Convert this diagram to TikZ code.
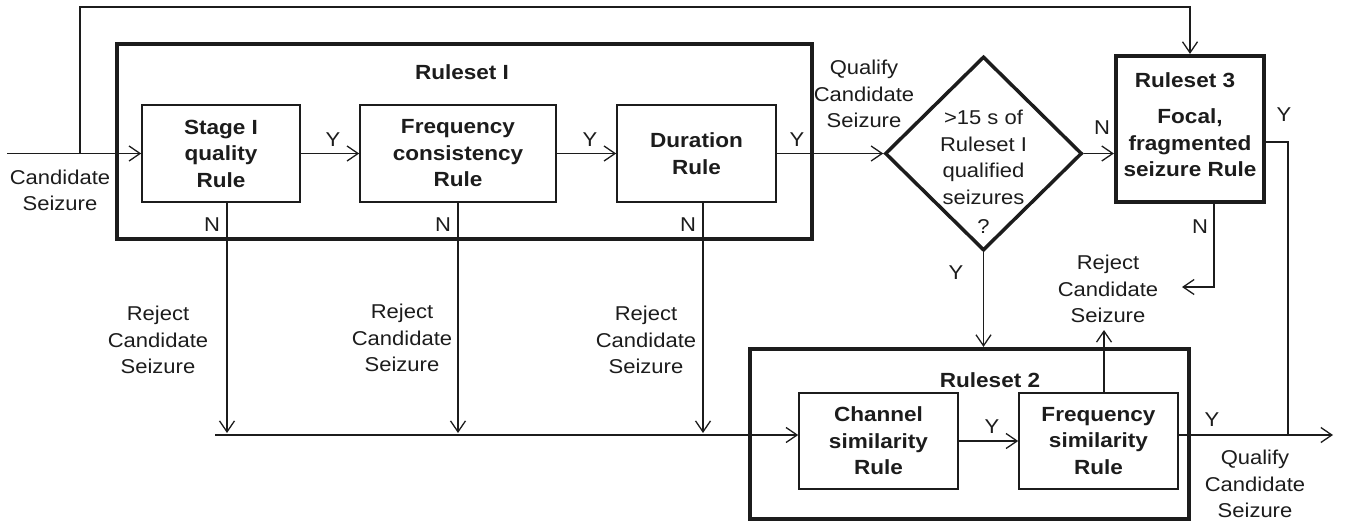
\documentclass[tikz,border=0pt]{standalone}
\usepackage{fontspec}
\setmainfont[FakeStretch=1.1]{Liberation Sans}
\usetikzlibrary{arrows.meta,shapes.geometric}
\definecolor{ink}{HTML}{1C1C1C}
\begin{document}
\begin{tikzpicture}[x=1pt,y=-1pt,
  every node/.style={text=ink},
  txt/.style={align=center, inner sep=0pt, font=\fontsize{20}{26.5}\selectfont},
  yn/.style={inner sep=0pt, font=\fontsize{20}{24}\selectfont},
  rulebox/.style={draw=ink, line width=1.6pt, align=center, inner sep=0pt,
    minimum height=97pt, font=\fontsize{20.5}{26.5}\selectfont\bfseries},
  setbox/.style={draw=ink, line width=4.2pt, inner sep=0pt},
  title/.style={inner sep=0pt, font=\fontsize{20.5}{26.5}\selectfont\bfseries},
  link/.style={draw=ink, line width=1.3pt},
  arr/.style={link, -{Straight Barb[length=11pt,width=15pt,line width=1.3pt]}},
]
\useasboundingbox (0,0) rectangle (1345,523);

% ---- Ruleset I ----
\node[setbox, minimum width=695pt, minimum height=195pt] (rs1) at (464.5,141.5) {};
\node[title] (rs1t) at (462,72) {Ruleset I};
\node[rulebox, minimum width=158pt] (stage) at (221,153.5) {Stage I\\quality\\Rule};
\node[rulebox, minimum width=196pt] (freqc) at (458,153.5) {Frequency\\consistency\\Rule};
\node[rulebox, minimum width=159pt] (dur) at (696.5,153.5) {Duration\\Rule};

% ---- decision ----
\node[diamond, draw=ink, line width=3.5pt, minimum width=197pt, minimum height=194pt,
  inner sep=0pt] (dec) at (983.5,153.5) {};
\node[txt] (dect) at (983.5,172) {>15 s of\\Ruleset I\\qualified\\seizures\\[3pt]?};

% ---- Ruleset 3 ----
\node[setbox, minimum width=148pt, minimum height=146pt] (rs3) at (1190,129) {};
\node[title] (rs3t) at (1185,80) {Ruleset 3};
\node[title, align=center] (rs3b) at (1190,143) {Focal,\\fragmented\\seizure Rule};

% ---- Ruleset 2 ----
\node[setbox, minimum width=439pt, minimum height=170pt] (rs2) at (969.5,434) {};
\node[title] (rs2t) at (990,380) {Ruleset 2};
\node[rulebox, minimum width=159pt, minimum height=96pt] (chan) at (878.5,441) {Channel\\similarity\\Rule};
\node[rulebox, minimum width=159pt, minimum height=96pt] (freqs) at (1098.5,441) {Frequency\\similarity\\Rule};

% ---- free text ----
\node[txt] (cand) at (60,190.5) {Candidate\\Seizure};
\node[txt] (qual1) at (864,94) {Qualify\\Candidate\\Seizure};
\node[txt] (qual2) at (1255,484) {Qualify\\Candidate\\Seizure};
\node[txt] (rej1) at (158,340) {Reject\\Candidate\\Seizure};
\node[txt] (rej2) at (402,338) {Reject\\Candidate\\Seizure};
\node[txt] (rej3) at (646,340) {Reject\\Candidate\\Seizure};
\node[txt] (rej4) at (1108,289) {Reject\\Candidate\\Seizure};

% ---- Y / N labels ----
\node[yn] (y1) at (333,140) {Y};
\node[yn] (y2) at (590,140) {Y};
\node[yn] (y3) at (797,140) {Y};
\node[yn] (n1) at (212,225) {N};
\node[yn] (n2) at (443,225) {N};
\node[yn] (n3) at (688,225) {N};
\node[yn] (n4) at (1102,128) {N};
\node[yn] (y4) at (1284,115) {Y};
\node[yn] (n5) at (1200,227) {N};
\node[yn] (y5) at (956,273) {Y};
\node[yn] (y6) at (992,427) {Y};
\node[yn] (y7) at (1212,420) {Y};

% ---- connector points ----
\coordinate (src) at (7,153.5);
\coordinate (br) at (80,153.5);
\coordinate (top) at (80,7);
\coordinate (m1) at (227,433);
\coordinate (m2) at (458,433);
\coordinate (m3) at (703,433);
\coordinate (busL) at (215,435);
\coordinate (out) at (1333,435);
\coordinate (yk) at (1288,142);
\coordinate (yj) at (1288,435);
\coordinate (nk) at (1214,287);
\coordinate (nt) at (1182,287);
\coordinate (ft) at (1104,330);

% ---- connectors ----
\draw[arr] (src) -- (stage.west);
\draw[arr] (br) -- (top) -| (rs3.north);
\draw[arr] (stage.east) -- (freqc.west);
\draw[arr] (freqc.east) -- (dur.west);
\draw[arr] (dur.east) -- (dec.west);
\draw[arr] (dec.east) -- (dec.east -| rs3.west);
\draw[arr] (dec.south) -- (dec.south |- rs2.north);
\draw[arr] (stage.south -| m1) -- (m1);
\draw[arr] (freqc.south -| m2) -- (m2);
\draw[arr] (dur.south -| m3) -- (m3);
\draw[arr] (busL) -- (chan.west |- busL);
\draw[arr] (chan.east) -- (freqs.west);
\draw[arr] (freqs.east |- out) -- (out);
\draw[link] (rs3.east |- yk) -- (yk) -- (yj);
\draw[arr] (rs3.south -| nk) -- (nk) -- (nt);
\draw[arr] (freqs.north -| ft) -- (ft);
\end{tikzpicture}
\end{document}
